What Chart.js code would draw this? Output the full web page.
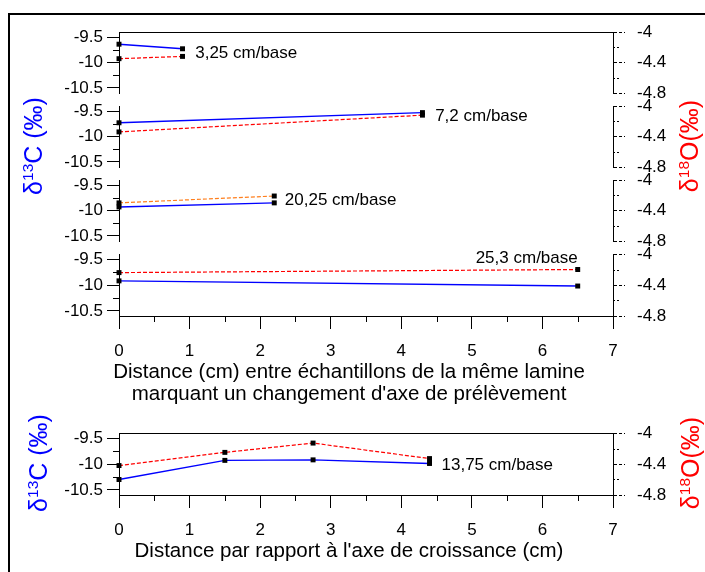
<!DOCTYPE html>
<html>
<head>
<meta charset="utf-8">
<script src="https://cdn.jsdelivr.net/npm/chart.js@4.4.0/dist/chart.umd.min.js"></script>
<style>
  body { margin: 0; background: #fff; width: 705px; height: 572px; overflow: hidden; position: relative;
         font-family: "Liberation Sans", Arial, sans-serif; color: #000; }
  #frame { position: absolute; left: 8px; top: 13px; width: 760px; height: 640px; border: 2px solid #000; box-sizing: border-box; }
  canvas { position: absolute; left: 0; }
  .ytitle { position: absolute; white-space: nowrap; font-size: 25px; line-height: 25px;
            transform: translate(-50%, -50%) rotate(-90deg); }
  .ytitle sup { font-size: 62%; vertical-align: 0.55em; line-height: 0; }
  .blue { color: #0000ff; }
  .red { color: #ff0000; }
  .xtitle { position: absolute; white-space: nowrap; font-size: 20.5px; line-height: 22px; text-align: center;
            transform: translateX(-50%); }
</style>
</head>
<body>
<div id="frame"></div>
<canvas id="p1"></canvas>
<canvas id="p2"></canvas>
<canvas id="p3"></canvas>
<canvas id="p4"></canvas>
<canvas id="p5"></canvas>

<div class="ytitle blue" style="left:33px; top:146px;">&delta;<sup>13</sup>C (&permil;)</div>
<div class="ytitle red" style="left:689px; top:146px;">&delta;<sup>18</sup>O(&permil;)</div>
<div class="ytitle blue" style="left:38px; top:463px;">&delta;<sup>13</sup>C (&permil;)</div>
<div class="ytitle red" style="left:690px; top:463px;">&delta;<sup>18</sup>O(&permil;)</div>

<div class="xtitle" style="left:349px; top:360px;">Distance (cm) entre échantillons de la même lamine<br>marquant un changement d'axe de prélèvement</div>
<div class="xtitle" style="left:349px; top:539px;">Distance par rapport à l'axe de croissance (cm)</div>

<script>
// ---- ticks ----
const X_TICKS = [0, 1, 2, 3, 4, 5, 6, 7];
const X_MINOR = [0.5, 1.5, 2.5, 3.5, 4.5, 5.5, 6.5];
const C_TICKS = [-10.5, -10, -9.5];
const C_MINOR = [-10.25, -9.75];
const O_TICKS = [-4.8, -4.4, -4];
const O_MINOR = [-4.6, -4.2];

// ---- données : 3,25 cm/base ----
const X_325 = [0, 0.9];
const C13_325 = [-9.64, -9.73];
const O18_325 = [-4.35, -4.32];

// ---- 7,2 cm/base ----
const X_72 = [0, 4.3];
const C13_72 = [-9.73, -9.53];
const O18_72 = [-4.34, -4.12];

// ---- 20,25 cm/base ----
const X_2025 = [0, 2.2];
const C13_2025 = [-9.93, -9.85];
const O18_2025 = [-4.30, -4.21];

// ---- 25,3 cm/base ----
const X_253 = [0, 6.5];
const C13_253 = [-9.92, -10.02];
const O18_253 = [-4.24, -4.20];

// ---- 13,75 cm/base (axe de croissance) ----
const X_1375 = [0, 1.5, 2.75, 4.4];
const C13_1375 = [-10.30, -9.93, -9.92, -9.99];
const O18_1375 = [-4.42, -4.25, -4.13, -4.33];

const FONT = '"Liberation Sans", Arial, sans-serif';

const PANELS = [
  { id: 'p1', top: 32,  h: 61, x: X_325,  c: C13_325,  o: O18_325,  oColor: '#ff0000', topLine: true,  xAxis: false,
    note: { text: '3,25 cm/base', x: 1.08, y: -9.82, align: 'left' } },
  { id: 'p2', top: 106, h: 61, x: X_72,   c: C13_72,   o: O18_72,   oColor: '#ff0000', topLine: false, xAxis: false,
    note: { text: '7,2 cm/base', x: 4.48, y: -9.61, align: 'left' } },
  { id: 'p3', top: 180, h: 61, x: X_2025, c: C13_2025, o: O18_2025, oColor: '#ff7f1e', topLine: false, xAxis: false,
    note: { text: '20,25 cm/base', x: 2.35, y: -9.79, align: 'left' } },
  { id: 'p4', top: 254, h: 62, x: X_253,  c: C13_253,  o: O18_253,  oColor: '#ff0000', topLine: false, xAxis: true,
    note: { text: '25,3 cm/base', x: 6.5, y: -9.49, align: 'right' } },
  { id: 'p5', top: 433, h: 62, x: X_1375, c: C13_1375, o: O18_1375, oColor: '#ff0000', topLine: true,  xAxis: true,
    note: { text: '13,75 cm/base', x: 4.57, y: -10.02, align: 'left' } }
];

// la marge doit dépasser la demi-hauteur d'étiquette + padding des graduations de droite
const PAD = 24;
const X_AXIS_H = 50;

// petites graduations, trait du haut et étiquette de la série
const extras = {
  id: 'extras',
  afterDraw(chart, args, opts) {
    const ctx = chart.ctx;
    const a = chart.chartArea;
    const yl = chart.scales.yL, yr = chart.scales.yR, xs = chart.scales.x;
    const seg = (x1, y1, x2, y2) => { ctx.beginPath(); ctx.moveTo(x1, y1); ctx.lineTo(x2, y2); ctx.stroke(); };
    ctx.save();
    ctx.strokeStyle = '#000';
    ctx.lineWidth = 1;
    C_MINOR.forEach(v => { const p = Math.round(yl.getPixelForValue(v)) + 0.5; seg(a.left - 6, p, a.left, p); });
    if (opts.xAxis) {
      X_MINOR.forEach(v => { const p = Math.round(xs.getPixelForValue(v)) + 0.5; seg(p, a.bottom, p, a.bottom + 6); });
    }
    if (opts.topLine) {
      const t = Math.round(a.top) + 0.5;
      seg(a.left, t, a.right, t);
    }
    ctx.setLineDash([2, 2]);
    O_MINOR.forEach(v => { const p = Math.round(yr.getPixelForValue(v)) + 0.5; seg(a.right, p, a.right + 6, p); });
    ctx.setLineDash([]);
    const n = opts.note;
    ctx.fillStyle = '#000';
    ctx.font = '17px ' + FONT;
    ctx.textAlign = n.align;
    ctx.textBaseline = 'middle';
    ctx.fillText(n.text, xs.getPixelForValue(n.x), yl.getPixelForValue(n.y));
    ctx.restore();
  }
};

function fixTicks(list) {
  return s => { s.ticks = list.map(v => ({ value: v })); };
}

const plainLabel = v => String(v);

function makePanel(p) {
  const cv = document.getElementById(p.id);
  const height = PAD + p.h + (p.xAxis ? X_AXIS_H : PAD);
  cv.width = 705;
  cv.height = height;
  cv.style.top = (p.top - PAD) + 'px';

  new Chart(cv, {
    type: 'line',
    data: {
      datasets: [
        {
          data: p.o.map((v, i) => ({ x: p.x[i], y: v })),
          yAxisID: 'yR',
          borderColor: p.oColor,
          borderWidth: 1.2,
          borderDash: [4, 2],
          pointStyle: 'rect',
          pointRadius: 3.5,
          pointBackgroundColor: '#000',
          pointBorderWidth: 0,
          clip: false
        },
        {
          data: p.c.map((v, i) => ({ x: p.x[i], y: v })),
          yAxisID: 'yL',
          borderColor: '#0000ff',
          borderWidth: 1.4,
          pointStyle: 'rect',
          pointRadius: 3.5,
          pointBackgroundColor: '#000',
          pointBorderWidth: 0,
          clip: false
        }
      ]
    },
    options: {
      responsive: false,
      animation: false,
      devicePixelRatio: 1,
      layout: { padding: { top: PAD, bottom: p.xAxis ? 0 : PAD, left: 0, right: 0 } },
      plugins: {
        legend: { display: false },
        tooltip: { enabled: false },
        extras: { topLine: p.topLine, xAxis: p.xAxis, note: p.note }
      },
      scales: {
        x: {
          type: 'linear',
          display: p.xAxis,
          min: 0,
          max: 7,
          afterBuildTicks: fixTicks(X_TICKS),
          afterFit: s => { s.height = p.xAxis ? X_AXIS_H : 0; },
          grid: { drawOnChartArea: false, tickLength: 13, color: '#000' },
          border: { color: '#000', width: 1 },
          ticks: { color: '#000', font: { size: 17, family: FONT }, padding: 12, maxRotation: 0, autoSkip: false,
                   callback: plainLabel }
        },
        yL: {
          position: 'left',
          min: -10.6,
          max: -9.4,
          afterBuildTicks: fixTicks(C_TICKS),
          afterFit: s => { s.width = 119; },
          grid: { drawOnChartArea: false, tickLength: 12, color: '#000' },
          border: { color: '#000', width: 1 },
          ticks: { color: '#000', font: { size: 17, family: FONT }, padding: 4, callback: plainLabel }
        },
        yR: {
          position: 'right',
          min: -4.8,
          max: -4,
          afterBuildTicks: fixTicks(O_TICKS),
          afterFit: s => { s.width = 92; },
          grid: { drawOnChartArea: false, tickLength: 12, color: '#000', tickBorderDash: [3, 2] },
          border: { color: '#000', width: 1, dash: [3, 2] },
          ticks: { color: '#000', font: { size: 17, family: FONT }, padding: 12, callback: plainLabel }
        }
      }
    },
    plugins: [extras]
  });
}

PANELS.forEach(makePanel);
</script>
</body>
</html>
